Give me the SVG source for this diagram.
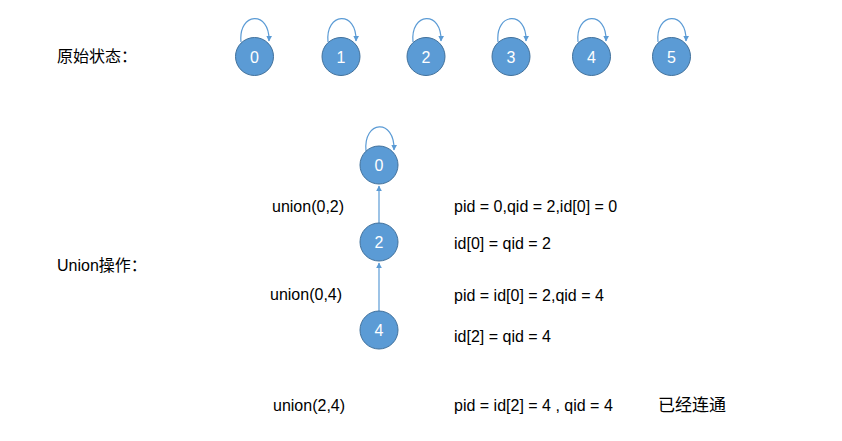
<svg xmlns="http://www.w3.org/2000/svg" width="842" height="441" viewBox="0 0 842 441">
<style>
.n{fill:#5B9BD5;stroke:#41719C;stroke-width:1}
.nt{font-family:"Liberation Sans",Arial,sans-serif;font-size:16px;fill:#fff;text-anchor:middle}
.t{font-family:"Liberation Sans","Noto Sans CJK SC",sans-serif;font-size:16px;fill:#000}
.c{fill:none;stroke:#5B9BD5;stroke-width:1.2}
</style>
<defs>
<marker id="ah" viewBox="0 0 10 10" refX="9" refY="5" markerWidth="6" markerHeight="6" orient="auto" markerUnits="userSpaceOnUse">
<path d="M0,0 L10,5 L0,10 z" fill="#5B9BD5"/>
</marker>
</defs>
<rect width="842" height="441" fill="#fff"/>
<g id="connectors">
<path class="c" d="M241,42 C238,12 270,10 269,41" marker-end="url(#ah)"/>
<path class="c" d="M328,42 C325,12 357,10 356,41" marker-end="url(#ah)"/>
<path class="c" d="M413,42 C410,12 442,10 441,41" marker-end="url(#ah)"/>
<path class="c" d="M498,42 C495,12 527,10 526,41" marker-end="url(#ah)"/>
<path class="c" d="M578,42 C575,12 607,10 606,41" marker-end="url(#ah)"/>
<path class="c" d="M658,42 C655,12 687,10 686,41" marker-end="url(#ah)"/>
<path class="c" d="M366,151 C363,120 395,118 394,150" marker-end="url(#ah)"/>
<line class="c" x1="379" y1="223" x2="379" y2="186" marker-end="url(#ah)"/>
<line class="c" x1="379" y1="311" x2="379" y2="263" marker-end="url(#ah)"/>
</g>
<g id="n0"><circle class="n" cx="254.5" cy="56.5" r="19"/><text class="nt" x="254.5" y="62.5">0</text></g>
<g id="n1"><circle class="n" cx="341" cy="56.5" r="19"/><text class="nt" x="341" y="62.5">1</text></g>
<g id="n2"><circle class="n" cx="426" cy="56.5" r="19"/><text class="nt" x="426" y="62.5">2</text></g>
<g id="n3"><circle class="n" cx="511" cy="56.5" r="19"/><text class="nt" x="511" y="62.5">3</text></g>
<g id="n4"><circle class="n" cx="591.5" cy="56.5" r="19"/><text class="nt" x="591.5" y="62.5">4</text></g>
<g id="n5"><circle class="n" cx="671.5" cy="56.5" r="19"/><text class="nt" x="671.5" y="62.5">5</text></g>
<g id="u0"><circle class="n" cx="379" cy="165" r="19"/><text class="nt" x="379" y="171">0</text></g>
<g id="u2"><circle class="n" cx="379" cy="242" r="19"/><text class="nt" x="379" y="248">2</text></g>
<g id="u4"><circle class="n" cx="379" cy="330" r="19"/><text class="nt" x="379" y="336">4</text></g>
<g id="labels">
<text class="t" x="57" y="62">原始状态：</text>
<text class="t" x="57" y="271">Union操作：</text>
<text class="t" x="272" y="212">union(0,2)</text>
<text class="t" x="270" y="300">union(0,4)</text>
<text class="t" x="273" y="411">union(2,4)</text>
<text class="t" x="454" y="212">pid = 0,qid = 2,id[0] = 0</text>
<text class="t" x="454" y="249">id[0] = qid = 2</text>
<text class="t" x="454" y="301">pid = id[0] = 2,qid = 4</text>
<text class="t" x="454" y="342">id[2] = qid = 4</text>
<text class="t" x="454" y="411">pid = id[2] = 4 , qid = 4</text>
<text class="t" x="658" y="411" style="font-size:17px">已经连通</text>
</g>
</svg>
